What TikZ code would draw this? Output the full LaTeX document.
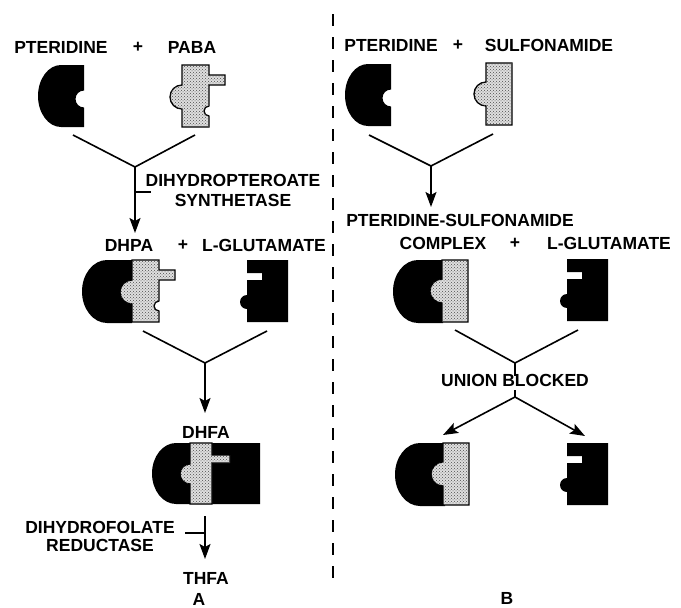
\documentclass[tikz,border=0pt]{standalone}
\usepackage{fontspec}
\setmainfont{Liberation Sans}
\usetikzlibrary{arrows.meta,patterns}
\begin{document}
\begin{tikzpicture}[x=1pt,y=-1pt,
  lbl/.style={font=\fontsize{17.5}{20}\selectfont\bfseries, inner sep=0pt},
  stip/.style={fill=gray!25, postaction={pattern=crosshatch dots, pattern color=black!70}, draw=black, line width=1.3pt},
  conn/.style={line width=1.6pt, line join=miter},
  arr/.style={conn, -{Stealth[length=15pt,width=11pt,inset=3pt]}},
  pter/.pic={\fill (46,0) -- (23,0) arc[start angle=270,end angle=90,x radius=23,y radius=31] -- (46,62) -- (46,42.5) arc[start angle=90,end angle=270,radius=8.5] -- cycle;},
  paba/.pic={\path[stip] (0,0) -- (27,0) -- (27,10) -- (43,10) -- (43,20) -- (27,20) -- (27,41) arc[start angle=270,end angle=90,radius=5] -- (27,62) -- (0,62) -- (0,44) arc[start angle=90,end angle=270,radius=12] -- cycle;},
  sulfa/.pic={\path[stip] (0,0) -- (26,0) -- (26,62) -- (0,62) -- (0,43) arc[start angle=90,end angle=270,radius=12] -- cycle;},
  glut/.pic={\fill (0,0) -- (41,0) -- (41,62) -- (0,62) -- (0,49) arc[start angle=90,end angle=270,radius=7] -- (0,20) -- (15,20) -- (15,13) -- (0,13) -- cycle;},
  capA/.pic={\fill (50,0) -- (25,0) arc[start angle=270,end angle=90,x radius=25,y radius=31.5] -- (50,63) -- cycle;},
  dhfa/.pic={\fill (108,0) -- (24,0) arc[start angle=270,end angle=90,x radius=24,y radius=30.5] -- (108,61) -- cycle;
             \path[stip] (38,0) -- (60,0) -- (60,12) -- (78,12) -- (78,20) -- (60,20) -- (60,61) -- (38,61) -- (38,41) arc[start angle=90,end angle=270,radius=10] -- cycle;}
]
\useasboundingbox (0,0) rectangle (681,608);

% divider
\coordinate (dtop) at (333,14);
\coordinate (dbot) at (333,586);
\draw[line width=2.6pt, dash pattern=on 12pt off 11pt] (dtop) -- (dbot);

% ---------- Panel A ----------
\node[lbl] (tPter) at (61,47) {PTERIDINE};
\node[lbl] (tPlus1) at (138,47) {+};
\node[lbl] (tPaba) at (192,47) {PABA};
\pic (sPter) at (38,65) {pter};
\pic (sPaba) at (182,65) {paba};

\coordinate (l1a) at (73,135);
\coordinate (l1b) at (195,135);
\coordinate (j1) at (135,167);
\coordinate (e1) at (135,233);
\draw[conn] (l1a) -- (j1) -- (l1b);
\draw[arr] (j1) -- (e1);
\coordinate (t1a) at (135,192);
\coordinate (t1b) at (151,192);
\draw[conn] (t1a) -- (t1b);
\node[lbl] (tDHPS1) at (233,180) {DIHYDROPTEROATE};
\node[lbl] (tDHPS2) at (233,200) {SYNTHETASE};

\node[lbl] (tDhpa) at (129,245) {DHPA};
\node[lbl] (tPlus2) at (183,245) {+};
\node[lbl] (tGlu1) at (264,245) {L-GLUTAMATE};
\pic (sDhpaCap) at (82,260) {capA};
\pic (sDhpaPaba) at (132,260) {paba};
\pic (sGlu1) at (247,260) {glut};

\coordinate (l2a) at (143,331);
\coordinate (l2b) at (267,331);
\coordinate (j2) at (205,363);
\coordinate (e2) at (205,413);
\draw[conn] (l2a) -- (j2) -- (l2b);
\draw[arr] (j2) -- (e2);

\node[lbl] (tDhfa) at (206,432) {DHFA};
\pic (sDhfa) at (152,443) {dhfa};

\coordinate (s3) at (205,516);
\coordinate (e3) at (205,559);
\draw[arr] (s3) -- (e3);
\coordinate (t2a) at (185,533);
\coordinate (t2b) at (205,533);
\draw[conn] (t2a) -- (t2b);
\node[lbl] (tDHFR1) at (100,527) {DIHYDROFOLATE};
\node[lbl] (tDHFR2) at (100,545) {REDUCTASE};
\node[lbl] (tThfa) at (206,578) {THFA};
\node[lbl] (tA) at (199,599) {A};

% ---------- Panel B ----------
\node[lbl] (tPterB) at (391,45) {PTERIDINE};
\node[lbl] (tPlus3) at (458,45) {+};
\node[lbl] (tSulfa) at (549,45) {SULFONAMIDE};
\pic (sPterB) at (345,64) {pter};
\pic (sSulfa) at (486,63) {sulfa};

\coordinate (r1a) at (369,135);
\coordinate (r1b) at (493,134);
\coordinate (j3) at (431,166);
\coordinate (e4) at (431,207);
\draw[conn] (r1a) -- (j3) -- (r1b);
\draw[arr] (j3) -- (e4);

\node[lbl] (tPS) at (460,220) {PTERIDINE-SULFONAMIDE};
\node[lbl] (tComplex) at (443,243) {COMPLEX};
\node[lbl] (tPlus4) at (515,243) {+};
\node[lbl] (tGlu2) at (609,243) {L-GLUTAMATE};
\pic (sCxCap) at (393,260) {capA};
\pic (sCxSulfa) at (442,260) {sulfa};
\pic (sGlu2) at (567,259) {glut};

\coordinate (r2a) at (455,330);
\coordinate (r2b) at (578,330);
\coordinate (j4) at (515,363);
\coordinate (u1) at (515,376);
\draw[conn] (r2a) -- (j4) -- (r2b);
\draw[conn] (j4) -- (u1);
\node[lbl] (tUnion) at (515,380) {UNION BLOCKED};
\coordinate (u2) at (515,390);
\coordinate (j5) at (515,397);
\coordinate (e5) at (443,435);
\coordinate (e6) at (585,436);
\draw[conn] (u2) -- (j5);
\draw[arr] (j5) -- (e5);
\draw[arr] (j5) -- (e6);

\pic (sCx2Cap) at (395,443) {capA};
\pic (sCx2Sulfa) at (443,443) {sulfa};
\pic (sGlu3) at (567,443) {glut};

\node[lbl] (tB) at (507,598) {B};
\end{tikzpicture}
\end{document}
